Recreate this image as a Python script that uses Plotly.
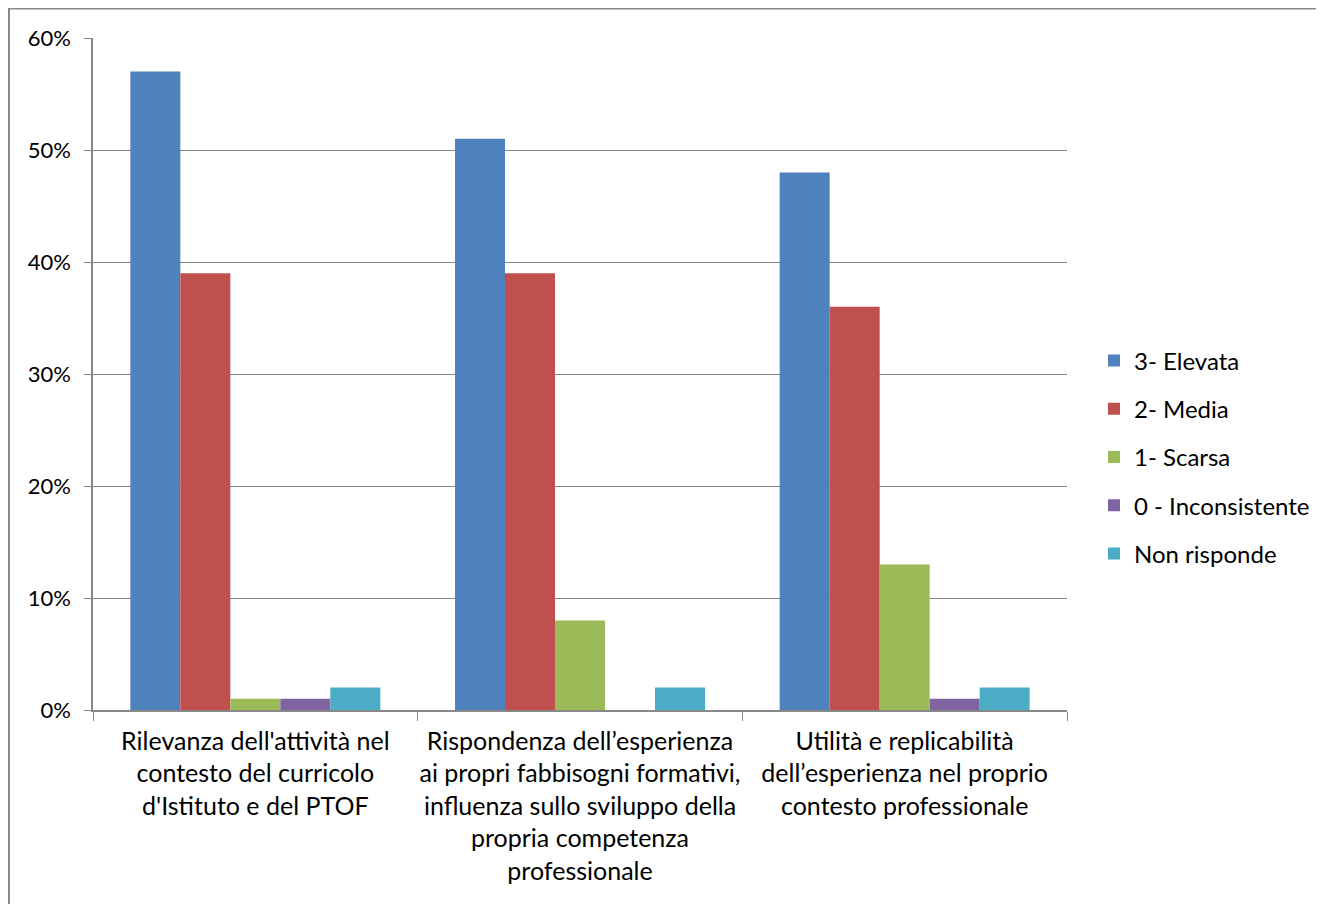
import plotly.graph_objects as go

categories = [
    "Rilevanza dell'attività nel<br>contesto del curricolo<br>d'Istituto e del PTOF",
    "Rispondenza dell’esperienza<br>ai propri fabbisogni formativi,<br>influenza sullo sviluppo della<br>propria competenza<br>professionale",
    "Utilità e replicabilità<br>dell’esperienza nel proprio<br>contesto professionale",
]
series_names = ["3- Elevata", "2- Media", "1- Scarsa", "0 - Inconsistente", "Non risponde"]
elevata = [0.57, 0.51, 0.48]
media = [0.39, 0.39, 0.36]
scarsa = [0.01, 0.08, 0.13]
inconsistente = [0.01, 0.0, 0.01]
non_risponde = [0.02, 0.02, 0.02]
colors = ["#4F81BD", "#C0504D", "#9BBB59", "#8064A2", "#4BACC6"]

values = [elevata, media, scarsa, inconsistente, non_risponde]

# page body has an 8px margin; coordinates below are figure coordinates
W, H = 1324, 904
L, R, T, B = 85, 1059, 30, 702

fig = go.Figure()
for i, (name, vals) in enumerate(zip(series_names, values)):
    fig.add_trace(go.Bar(
        x=categories, y=vals, name=name,
        marker=dict(color=colors[i], line=dict(width=0)),
        legendgroup=name,
    ))

font = "Lato, 'Open Sans', sans-serif"
fig.update_layout(
    width=W, height=H,
    margin=dict(l=L, r=W - R, t=T, b=H - B, autoexpand=False),
    paper_bgcolor="white", plot_bgcolor="white",
    barmode="group", bargap=0.23, bargroupgap=0,
    font=dict(family=font, size=22, color="#000000"),
    showlegend=True,
    legend=dict(
        x=(1086 - L) / (R - L), xanchor="left",
        y=(B - 449) / (B - T), yanchor="middle",
        font=dict(size=24, family=font),
        tracegroupgap=14,
        itemwidth=30,
        bgcolor="rgba(0,0,0,0)",
    ),
    xaxis=dict(
        type="category", tickson="boundaries", ticks="outside", ticklen=9,
        tickcolor="#888888", showline=True, linecolor="#888888", linewidth=1.5,
        showgrid=False, tickfont=dict(size=25, family=font),
        range=[-0.5, 2.5], ticklabelstandoff=8, tickangle=0,
    ),
    yaxis=dict(
        range=[0, 0.6], dtick=0.1, tickformat=".0%",
        ticks="outside", ticklen=7, tickcolor="#888888",
        showline=True, linecolor="#888888", linewidth=1.5,
        showgrid=True, gridcolor="#888888", gridwidth=1,
        zeroline=False, tickfont=dict(size=22, family=font),
        ticklabelstandoff=9,
    ),
    shapes=[dict(
        type="rect", xref="paper", yref="paper",
        x0=(0 - L) / (R - L) + 0.001, x1=1.5,
        y0=-0.5, y1=(B - 0.5) / (B - T),
        line=dict(color="#8a8a8a", width=2), fillcolor="rgba(0,0,0,0)",
        layer="below",
    )],
)

fig.write_html("out.html")
